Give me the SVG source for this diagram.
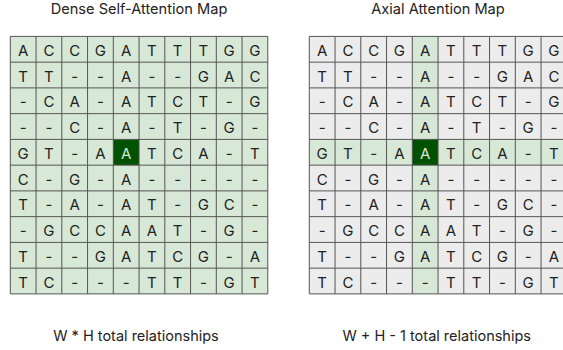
<svg xmlns="http://www.w3.org/2000/svg" width="563" height="350" viewBox="0 0 563 350">
  <style>
    .title { font-family: Inter, "Liberation Sans", sans-serif; font-size: 14.6px; fill: #222; text-anchor: middle; }
    .cap { font-family: Inter, "Liberation Sans", sans-serif; font-size: 14.5px; fill: #222; text-anchor: middle; }
    .c { font-family: Inter, "Liberation Sans", sans-serif; font-size: 15px; fill: #222; text-anchor: middle; }
    .c.hi { fill: #d5e8d4; }
    .grid { fill: none; stroke: #555; stroke-width: 1; }
    .green { fill: #d8e8d6; }
    .grey { fill: #ececec; }
    .focus { fill: #005200; }
  </style>
  <defs>
    <!-- 10 x 10 cell lines, cell size 25.75 -->
    <path id="lines" class="grid" d="M0 0H257.5V257.5H0Z M25.75 0V257.5 M51.5 0V257.5 M77.25 0V257.5 M103 0V257.5 M128.75 0V257.5 M154.5 0V257.5 M180.25 0V257.5 M206 0V257.5 M231.75 0V257.5 M0 25.75H257.5 M0 51.5H257.5 M0 77.25H257.5 M0 103H257.5 M0 128.75H257.5 M0 154.5H257.5 M0 180.25H257.5 M0 206H257.5 M0 231.75H257.5"/>
    <!-- sequence letters, shared by both maps -->
    <g id="letters">
      <text class="c" x="12.9" y="19.5">A</text><text class="c" x="38.6" y="19.5">C</text><text class="c" x="64.4" y="19.5">C</text><text class="c" x="90.1" y="19.5">G</text><text class="c" x="115.9" y="19.5">A</text><text class="c" x="141.6" y="19.5">T</text><text class="c" x="167.4" y="19.5">T</text><text class="c" x="193.1" y="19.5">T</text><text class="c" x="218.9" y="19.5">G</text><text class="c" x="244.6" y="19.5">G</text>
      <text class="c" x="12.9" y="45.25">T</text><text class="c" x="38.6" y="45.25">T</text><text class="c" x="64.4" y="45.25">-</text><text class="c" x="90.1" y="45.25">-</text><text class="c" x="115.9" y="45.25">A</text><text class="c" x="141.6" y="45.25">-</text><text class="c" x="167.4" y="45.25">-</text><text class="c" x="193.1" y="45.25">G</text><text class="c" x="218.9" y="45.25">A</text><text class="c" x="244.6" y="45.25">C</text>
      <text class="c" x="12.9" y="71">-</text><text class="c" x="38.6" y="71">C</text><text class="c" x="64.4" y="71">A</text><text class="c" x="90.1" y="71">-</text><text class="c" x="115.9" y="71">A</text><text class="c" x="141.6" y="71">T</text><text class="c" x="167.4" y="71">C</text><text class="c" x="193.1" y="71">T</text><text class="c" x="218.9" y="71">-</text><text class="c" x="244.6" y="71">G</text>
      <text class="c" x="12.9" y="96.75">-</text><text class="c" x="38.6" y="96.75">-</text><text class="c" x="64.4" y="96.75">C</text><text class="c" x="90.1" y="96.75">-</text><text class="c" x="115.9" y="96.75">A</text><text class="c" x="141.6" y="96.75">-</text><text class="c" x="167.4" y="96.75">T</text><text class="c" x="193.1" y="96.75">-</text><text class="c" x="218.9" y="96.75">G</text><text class="c" x="244.6" y="96.75">-</text>
      <text class="c" x="12.9" y="122.5">G</text><text class="c" x="38.6" y="122.5">T</text><text class="c" x="64.4" y="122.5">-</text><text class="c" x="90.1" y="122.5">A</text><text class="c hi" x="115.9" y="122.5">A</text><text class="c" x="141.6" y="122.5">T</text><text class="c" x="167.4" y="122.5">C</text><text class="c" x="193.1" y="122.5">A</text><text class="c" x="218.9" y="122.5">-</text><text class="c" x="244.6" y="122.5">T</text>
      <text class="c" x="12.9" y="148.25">C</text><text class="c" x="38.6" y="148.25">-</text><text class="c" x="64.4" y="148.25">G</text><text class="c" x="90.1" y="148.25">-</text><text class="c" x="115.9" y="148.25">A</text><text class="c" x="141.6" y="148.25">-</text><text class="c" x="167.4" y="148.25">-</text><text class="c" x="193.1" y="148.25">-</text><text class="c" x="218.9" y="148.25">-</text><text class="c" x="244.6" y="148.25">-</text>
      <text class="c" x="12.9" y="174">T</text><text class="c" x="38.6" y="174">-</text><text class="c" x="64.4" y="174">A</text><text class="c" x="90.1" y="174">-</text><text class="c" x="115.9" y="174">A</text><text class="c" x="141.6" y="174">T</text><text class="c" x="167.4" y="174">-</text><text class="c" x="193.1" y="174">G</text><text class="c" x="218.9" y="174">C</text><text class="c" x="244.6" y="174">-</text>
      <text class="c" x="12.9" y="199.75">-</text><text class="c" x="38.6" y="199.75">G</text><text class="c" x="64.4" y="199.75">C</text><text class="c" x="90.1" y="199.75">C</text><text class="c" x="115.9" y="199.75">A</text><text class="c" x="141.6" y="199.75">A</text><text class="c" x="167.4" y="199.75">T</text><text class="c" x="193.1" y="199.75">-</text><text class="c" x="218.9" y="199.75">G</text><text class="c" x="244.6" y="199.75">-</text>
      <text class="c" x="12.9" y="225.5">T</text><text class="c" x="38.6" y="225.5">-</text><text class="c" x="64.4" y="225.5">-</text><text class="c" x="90.1" y="225.5">G</text><text class="c" x="115.9" y="225.5">A</text><text class="c" x="141.6" y="225.5">T</text><text class="c" x="167.4" y="225.5">C</text><text class="c" x="193.1" y="225.5">G</text><text class="c" x="218.9" y="225.5">-</text><text class="c" x="244.6" y="225.5">A</text>
      <text class="c" x="12.9" y="251.25">T</text><text class="c" x="38.6" y="251.25">C</text><text class="c" x="64.4" y="251.25">-</text><text class="c" x="90.1" y="251.25">-</text><text class="c" x="115.9" y="251.25">-</text><text class="c" x="141.6" y="251.25">T</text><text class="c" x="167.4" y="251.25">T</text><text class="c" x="193.1" y="251.25">-</text><text class="c" x="218.9" y="251.25">G</text><text class="c" x="244.6" y="251.25">T</text>
    </g>
  </defs>

  <rect width="563" height="350" fill="#ffffff"/>

  <!-- dense self-attention: every cell attends to the focus cell -->
  <g id="dense-map">
    <text class="title" x="139" y="13.5">Dense Self-Attention Map</text>
    <g transform="translate(10.3 36.4)">
      <rect class="green" width="257.5" height="257.5"/>
      <rect class="focus" x="103" y="103" width="25.75" height="25.75"/>
      <use href="#lines"/>
      <use href="#letters"/>
    </g>
    <text class="cap" x="136" y="340.7">W * H total relationships</text>
  </g>

  <!-- axial attention: only the focus row and column -->
  <g id="axial-map">
    <text class="title" x="438" y="13.5">Axial Attention Map</text>
    <g transform="translate(309.3 36.4)">
      <rect class="grey" width="257.5" height="257.5"/>
      <rect class="green" x="103" y="0" width="25.75" height="257.5"/>
      <rect class="green" x="0" y="103" width="257.5" height="25.75"/>
      <rect class="focus" x="103" y="103" width="25.75" height="25.75"/>
      <use href="#lines"/>
      <use href="#letters"/>
    </g>
    <text class="cap" x="436.7" y="340.7">W + H - 1 total relationships</text>
  </g>
</svg>
